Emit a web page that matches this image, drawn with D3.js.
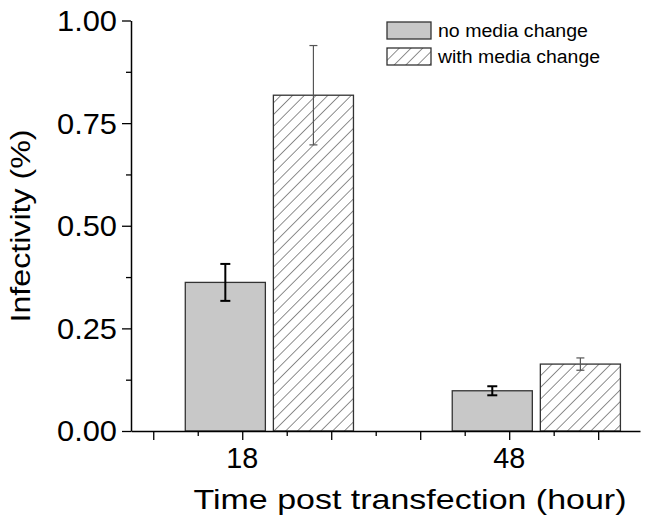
<!DOCTYPE html>
<html>
<head>
<meta charset="utf-8">
<script src="https://cdn.jsdelivr.net/npm/d3@7"></script>
<style>
  body { margin: 0; background: #fff; }
  text { font-family: "Liberation Sans", Arial, sans-serif; fill: #000; }
</style>
</head>
<body>
<div id="chart"></div>
<script>
// data
var times = [18, 48];
var seriesNames = ["no media change", "with media change"];
var noChange = [0.362, 0.098];
var noChangeErr = [0.045, 0.011];
var withChange = [0.818, 0.163];
var withChangeErr = [0.121, 0.015];
var yTicks = [0, 0.25, 0.5, 0.75, 1.0];

var W = 650, H = 523;

var svg = d3.select("#chart").append("svg")
    .attr("width", W)
    .attr("height", H);

// hatch pattern
var defs = svg.append("defs");
defs.append("pattern")
    .attr("id", "hatch")
    .attr("patternUnits", "userSpaceOnUse")
    .attr("width", 8.3)
    .attr("height", 8.3)
    .attr("patternTransform", "rotate(45)")
  .append("line")
    .attr("x1", 0).attr("y1", 0)
    .attr("x2", 0).attr("y2", 8.3)
    .attr("stroke", "#444")
    .attr("stroke-width", 1.2);

// scales: x is linear in hours, bars sit a bit right of their label
var x = d3.scaleLinear().domain([5.5, 62.7]).range([131, 640]);
var y = d3.scaleLinear().domain([0, 1]).range([431, 20.5]);

var barW = 9; // hours
var groups = times.map(function(t, i) {
  return [
    {t: t, name: seriesNames[0], v: noChange[i], e: noChangeErr[i], x0: t - 6.4},
    {t: t, name: seriesNames[1], v: withChange[i], e: withChangeErr[i], x0: t + 3.5}
  ];
});
var bars = d3.merge(groups);

// bars
svg.append("g").selectAll("rect")
  .data(bars)
  .join("rect")
    .attr("x", d => x(d.x0))
    .attr("y", d => y(d.v))
    .attr("width", d => x(d.x0 + barW) - x(d.x0))
    .attr("height", d => y(0) - y(d.v))
    .attr("fill", d => d.name === seriesNames[0] ? "#c8c8c8" : "url(#hatch)")
    .attr("stroke", "#333")
    .attr("stroke-width", 1.3);

// error bars
var capW = d => d.name === seriesNames[0] ? 5 : 4;
var eb = svg.append("g").selectAll("g")
  .data(bars)
  .join("g")
    .attr("stroke", d => d.name === seriesNames[0] ? "#000" : "#555")
    .attr("stroke-width", d => d.name === seriesNames[0] ? 2 : 1.2);
eb.append("line")
    .attr("x1", d => x(d.x0 + barW / 2)).attr("x2", d => x(d.x0 + barW / 2))
    .attr("y1", d => y(d.v - d.e)).attr("y2", d => y(d.v + d.e));
eb.append("line")
    .attr("x1", d => x(d.x0 + barW / 2) - capW(d))
    .attr("x2", d => x(d.x0 + barW / 2) + capW(d))
    .attr("y1", d => y(d.v + d.e)).attr("y2", d => y(d.v + d.e));
eb.append("line")
    .attr("x1", d => x(d.x0 + barW / 2) - capW(d))
    .attr("x2", d => x(d.x0 + barW / 2) + capW(d))
    .attr("y1", d => y(d.v - d.e)).attr("y2", d => y(d.v - d.e));

// y axis
var yAxisG = svg.append("g").attr("transform", "translate(" + x(5.5) + ",0)");
yAxisG.call(d3.axisLeft(y).tickValues(d3.range(0, 1.001, 0.125)).tickSize(0).tickFormat(""));
yAxisG.selectAll(".tick line")
    .attr("x2", d => (Math.round(d * 1000) % 250 === 0) ? -9 : -5)
    .attr("stroke-width", 1.3);
yAxisG.select(".domain").attr("stroke-width", 1.5);
yAxisG.selectAll(".ylab")
  .data(yTicks)
  .join("text")
    .attr("class", "ylab")
    .attr("x", -14)
    .attr("y", d => y(d))
    .attr("dy", "0.36em")
    .attr("text-anchor", "end")
    .attr("font-size", 29)
    .attr("textLength", 60)
    .attr("lengthAdjust", "spacingAndGlyphs")
    .text(d3.format(".2f"));

// x axis
var xAxisG = svg.append("g").attr("transform", "translate(0," + y(0) + ")");
xAxisG.call(d3.axisBottom(x).tickValues(d3.range(8, 60, 5)).tickSize(0).tickFormat(""));
xAxisG.selectAll(".tick line")
    .attr("y2", d => ((d - 8) % 10 === 0) ? 9 : 5)
    .attr("stroke-width", 1.3);
xAxisG.select(".domain").attr("stroke-width", 1.5);
xAxisG.selectAll(".xlab")
  .data(times)
  .join("text")
    .attr("class", "xlab")
    .attr("x", d => x(d))
    .attr("y", 37)
    .attr("text-anchor", "middle")
    .attr("font-size", 29)
    .attr("textLength", 32)
    .attr("lengthAdjust", "spacingAndGlyphs")
    .text(d => d);

// axis titles
svg.append("text")
    .attr("x", 410)
    .attr("y", 509)
    .attr("text-anchor", "middle")
    .attr("font-size", 28)
    .attr("textLength", 433)
    .attr("lengthAdjust", "spacingAndGlyphs")
    .text("Time post transfection (hour)");
svg.append("text")
    .attr("transform", "translate(30,226) rotate(-90)")
    .attr("text-anchor", "middle")
    .attr("font-size", 27)
    .attr("textLength", 193)
    .attr("lengthAdjust", "spacingAndGlyphs")
    .text("Infectivity (%)");

// legend
var legend = svg.append("g").attr("transform", "translate(387,22)");
var li = legend.selectAll("g")
  .data(seriesNames)
  .join("g")
    .attr("transform", (d, i) => "translate(0," + i * 26 + ")");
li.append("rect")
    .attr("width", 44)
    .attr("height", 17)
    .attr("fill", (d, i) => i === 0 ? "#c8c8c8" : "url(#hatch)")
    .attr("stroke", "#333")
    .attr("stroke-width", 1.3);
li.append("text")
    .attr("x", 51)
    .attr("y", 15)
    .attr("font-size", 18)
    .attr("textLength", (d, i) => i === 0 ? 150 : 162)
    .attr("lengthAdjust", "spacingAndGlyphs")
    .text(d => d);
</script>
</body>
</html>
